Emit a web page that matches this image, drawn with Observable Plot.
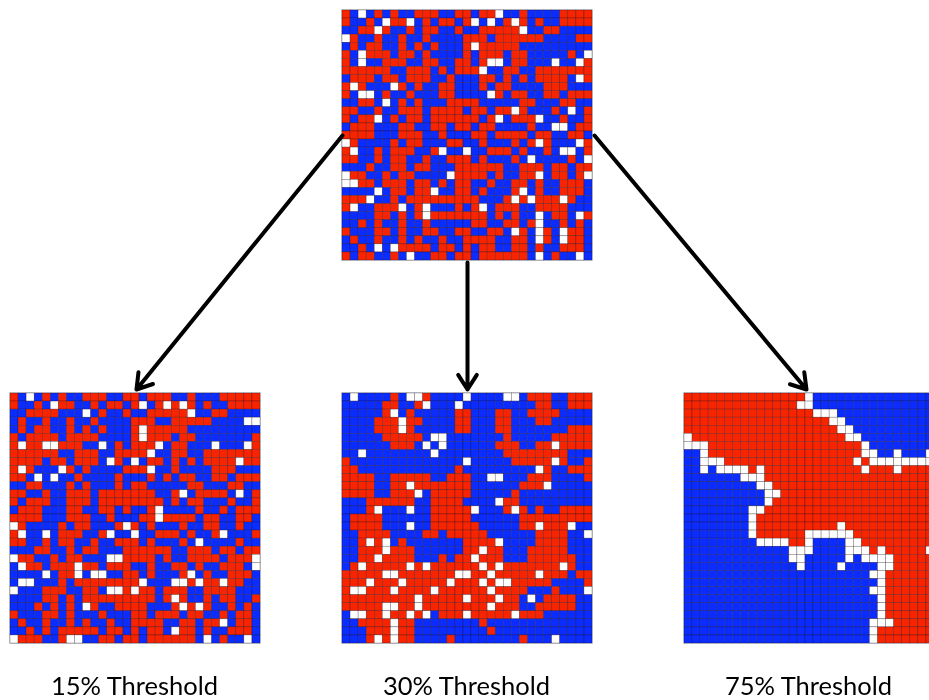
<!DOCTYPE html>
<html>
<head>
<meta charset="utf-8">
<script src="https://cdn.jsdelivr.net/npm/d3@7"></script>
<script src="https://cdn.jsdelivr.net/npm/@observablehq/plot@0.6"></script>
<style>
html,body{margin:0;padding:0;background:#fff;overflow:hidden}
svg{display:block;filter:blur(0.5px)}
</style>
</head>
<body>
<div id="chart"></div>
<script>
// R red agent, B blue agent, . empty
const initialGrid = [
"RB.BRBRBBRRRBBRRBRR.BBRBBBBRRRR",
"RBBRB.RR.BRBRRBR.B.BR.RBRBBRRRR",
"BBRR.RBBRBRRBBRBBRRRRR.BBRRBBBB",
".RBBRBBRBBRBBBBRRRBRRRRRRBBBBRR",
"BRBRRBBRBRBRBBBR.RRRRRBBBBBBBBB",
"RB.RRRBRRBRBBBBRBRRRBRRBBBBBRB.",
"RB.BBRRRBBRRBBRRBR..BRRBBB.BB.R",
"RRRRRRBBRRRBRBRRR.BBRRBBRRRRRRR",
"BRRRBRRBRRRBBRBBBRRBRBRBRRRRB.R",
"R.RBBB.RBRBBRRBBBRBRRBBBBRRRBBB",
"RB..BRBBRBBBRRBBBB.RBRRBBRRBRRR",
"BBRRB.BRBRBBBRRRRBBBBBRRBBBRRBB",
"RRBBRBBRRRBRRRRBRRBRR.RBBBRB.BR",
"RBRR.BRBRRBRRRRRRBR.BRRR.BBRBBR",
"BRRRBBBRRBBRRBRRBRRBBBBRBB..BRR",
"RRRRBBBRRRBBRBBBRRBRRRRBRRBBRRB",
".RBBBBRBRRBBBRRBBRBBBRBR.RBBB.R",
"R.BBRBRRRBBR.BB.BBRRRBRBBRB..BR",
"RRBBRBRRBBRBBRRRBRBBBRB.BBBBRB.",
"BBBRBBRRBRRBBBRRRRRRBBRRRBRRBRR",
".RRBBRBRRBBBB.RRRRBRBBRR.BRRBR.",
"..RRBRRRBRRBRBRRBBRBBRRBRBBRRRB",
"BBBB.BRRBRR.BBRRBRBBBR.BRBBRRRB",
"RRR.BBRBRRRRRRRRRBBBR.R.RRR.RBB",
"R.BBRRR.BR.BBBRBR.BRRRBBRRRRBBB",
"BBBBRRBRBR.RRRRRRRBRBRBB.BRRB.R",
"BBRBRBBRBBRBBBBBRRBBRRBR.BBRBRB",
"RBBBRRBRBBRRBBRRBBRRB.RB.RB.RRB",
"BRBBRBBRBRBBRBBRRRRBBRRB.RB.RRB",
"BBRB.B.RRRRBRRBRBRRBBRRBRBBRRRB",
"RBRRBBRB.BBRRBRRBRRRRRRB.BRBB.B"
];
const grid15 = [
"RB.BRBRBBRRRBBRRBRRRBBRBBBRRRRR",
"RBBRB.RRBBRBRRBR.BR.R.RBRBBRRRR",
"BBRRRRBBB.BRBBRBBRRRRR.BBRRBBBB",
"BRBBRBBRBBRBBBBRRRBBRRRRRBBBB..",
"BRBRRBBRBRBRBBBR.RRRRRBBBBBBBBB",
"RBRRRRBRRRRBBBBR.RRRBRRBBBBBBBR",
"R.RR..RRRBB.BRBRRR.BRRBBB.BBB.R",
"RRRRRRBBRRRBBRRRR.BBRRBBRRRRRRR",
"RRRRBRRBRRRB.RB.BRRBRBRBRRRR.RR",
"R.RBBB.RBRBBBBRRR.BBRBBBBRRRBBB",
"RRB.B.BBRBBBBRBBBRBRBRRBBRRBRRR",
"BBRRBBBRBRBBBRBRRBBBBBRRBBBRRBB",
"RRBBRBBRRRBRRRRRRRBBR.BRRRRB.BR",
"RBRRRBBRRRBRRRRRRRRBRBRRBBBRBBR",
"BRRRBBBRRBBRRBRBBR.BBBBRBBRBRRR",
"RRRRBBBRRRBBRBBBRR.RRRRBRRBBRRB",
".RBBBBRBRRBBBR.RBRBBBRBBRRBBRBB",
"R.BB.BRRRBBR.BB.BBRRRBRBBR.BBBR",
"RRBBRBRRBBRBBRRRBRBBBRB.BBBBRBB",
"BBBRRBBRBRRBBBRRRRRRBBRRRBRRBRR",
".RRBBRBRRBBB..RRRRBRBBRRRRBRRR.",
"B.RRBRRR.RRBRRRBBRBBRRBRBBRRRB.",
"BBBB.BRR.B..BBRRBRBBBR.BRBBRRRB",
"B..BBBRBRRRRRRRR.BBB..R.RR.RRBB",
".BBBRRRBBRRB..R.RRBRRRBBRRRRBBB",
"BBBBRRBRBRRRRRRRRRBR.RBBRBRRBBR",
"BBBRBRBRB.RBBRRRRBBBR.R.RBBRBRB",
"RBBBRRBRBBBRBBBRRBRRRBRRBBRBRRB",
"BRBBRBBRBRBBRBBRRRRBBRRBRR.BRRB",
"BBRBRBRRRRRBRRBRBRRB.RRBRBBRRRB",
".RRRBBR..BBRRBRRBRRRRRRB.BRBB.B"
];
const grid30 = [
"B.BBBBRB..RBBBB.BBBB..BRRRBBRRR",
"BBBBBRRBBR.BBB.BBBBBBBBBRRBBRRR",
"BBBBBR.BRBBBBBRRBBBRRBBRRRRBBBB",
"BBBBRRR.RRBBBBRRBBBRRBBBRRBBBBB",
"BBBBRRR.RBBBBBRRBBBRRBBBBBBBRRR",
"BBBBBRRRRRB..BBBBBBBRBBBBBRRRRR",
"BBBBBBRRRB.B.BBBBBBRRRBBRR.RRRR",
"BB.BBBBBBBB.BBBBBBBBRRRRRRRRBBB",
"RBBBBBBBBBBBBBB.BBBBBRRRRR.RBBR",
"RRBBBBBBBBBBBBRBBBBBBBBB.RBBRRR",
"RRRRBBRRRRRBBRRRBB..BBBRRRBBBBR",
"RRRRBBRR.RRRRRRRBBBBBBRRR.BBBBB",
"RRRRBBRRR.BRRRRRBBBBBRBBBBBBBBB",
"BBBRRRRRRBBRRRRBBBB.RRBBBBBBBBB",
"BBBR.BBB.BBRRRRR.BBBR.RBRBBRRRR",
"BRRRRBBBBBBRRRRRBBBBBBRRRRRRRRR",
"BRRRRBBB.BBRRRRRRBBBBBRR.RRR.BB",
"BBRRRRBBBBRRBRRRRRBBBBBBRRRRBB.",
"BBR.R.BRBBBBBBBRRRR.BBBBRRRRBBB",
"BBRRR.RRRBBBBBBRR.RRBBBRRRRRBBB",
"BBRR.RRRRBBBRBRR.RRRBBBRRRRRRBB",
"BR.RRRRR.R.RRRRRR.R.RRRRRRR.RBB",
"RRRRR..RRRRRRR..RR.RRRRR.RRRBRR",
"RRR.RRR.RRRRR.RRR.R..RRRRRBBBBR",
"R..RRR.RRRR.RRRRRR.RRRRBBBRBBB.",
"RRRRRRRRR.RRRRR.RRR.RRB.BRRRRBB",
"RRRRR..RR.RRRRRRRR.RRRBBRRRRRBB",
"B..RR.RR.R.BRRR.RRRRR.RRRBBBBBB",
"BBRRRR.RRBBBBBBBBRBBBBBBBBBBBBB",
"BBBRRR.RRBBBBBBBBBRBBBBBBBBBBBB",
"BBBR.R.RRBBBBRBBBBBBBBRBBB.BBBB"
];
const grid75 = [
"RRRRRRRRRRRRRRR.BBBBBBBBBBBBBBB",
"RRRRRRRRRRRRRR..BBBBBBBBBBBBBBB",
"RRRRRRRRRRRRRRRR...BBBBBBBBBBBB",
"RRRRRRRRRRRRRRRRRR..BBBBBBBBBBB",
"RRRRRRRRRRRRRRRRRRR..BBBBBBBBBB",
".RRRRRRRRRRRRRRRRRRR..BBBBBBBBB",
"...RRRRRRRRRRRRRRRRRRR.BBBBBBBB",
"BB.RRRRRRRRRRRRRRRRRRR..BB.BBB.",
"BB...RRRRRRRRRRRRRRRR.R........",
"BB.B....R.RRRRRRRRRRRR.RRR.RRRR",
"BBBBBBB...RRRRRRRRRRRRRRRRRRRRR",
"BBBBBBBBB..RRRRRRRRRRRRRRRRRRRR",
"BBBBBBBBBB..RRRRRRRRRRRRRRRRRRR",
"BBBBBBBBBB.RRRRRRRRRRRRRRRRRRRR",
"BBBBBBBB..RRRRRRRRRRRRRRRRRRRRR",
"BBBBBBBB.RRRRRRRRRRRRRRRRRRRRRR",
"BBBBBBBB.RRRRRRRRRR.RRRRRRRRRRR",
"BBBBBBBB.RRRRRR......RRRRRRRRRR",
"BBBBBBBBB....RR.BBBB..RRRRRRRRR",
"BBBBBBBBBBBBB...BBBB...R.RRRRR.",
"BBBBBBBBBBBBB..BBBBB.B....RRRRR",
"BBBBBBBBBBBBBB.BBBB.BBBB..RRRRR",
"BBBBBBBBBBBBBBBBBBBBBBB..RRRRRR",
"BBBBBBBBBBBBBBBBBBBBBBBB.RRRRRR",
"BBBBBBBBBBBBBBBBBBBBBBB..RRRRRR",
"BBBBBBBBBBBBBBBBBBBBBBBB.RRRRRR",
"BBBBBBBBBBBBBBBBBBBBBBBB.RRRRRR",
"BBBBBBBBBBBBBBBBBBBBBBBB.RRRRRR",
"BBBBBBBBBBBBBBBBBBBBBBB...RRRRR",
"BBBBBBBBBBBBBBBBBBBBBBB.RRRRRRR",
"BBBBBBBBBBBBBBBBBBBBBBB.RRRRRRR"
];
const thresholdLabels = ["15% Threshold", "30% Threshold", "75% Threshold"];

// page layout, in the pixel units of the x and y scales
const W = 929, H = 700, SIZE = 250, N = 31;
const panels = [
  {grid: initialGrid, left: 342, top: 10},
  {grid: grid15, left: 10, top: 393, label: thresholdLabels[0]},
  {grid: grid30, left: 342, top: 393, label: thresholdLabels[1]},
  {grid: grid75, left: 684, top: 393, label: thresholdLabels[2]}
];
const links = [
  {x1: 342, y1: 135, x2: 136, y2: 389},
  {x1: 467, y1: 262, x2: 467, y2: 389},
  {x1: 594, y1: 135, x2: 806, y2: 389}
];
const pitch = SIZE / N;
const cells = panels.flatMap(p => p.grid.flatMap((row, r) => [...row].map((v, c) => ({
  state: v,
  x1: p.left + c * pitch, x2: p.left + (c + 1) * pitch,
  y1: p.top + r * pitch, y2: p.top + (r + 1) * pitch
}))));

const plot = Plot.plot({
  width: W, height: H, margin: 0,
  x: {domain: [0, W], axis: null},
  y: {domain: [H, 0], range: [H, 0], axis: null},
  color: {type: "ordinal", domain: ["R", "B", "."], range: ["#f82400", "#0a2cff", "#ffffff"]},
  style: {background: "#fff"},
  marks: [
    Plot.rect(panels, {x1: "left", x2: d => d.left + SIZE, y1: "top", y2: d => d.top + SIZE,
      fill: "#fff", stroke: "#b9bcc8", strokeWidth: 1.5}),
    Plot.rect(cells, {x1: "x1", x2: "x2", y1: "y1", y2: "y2", fill: "state",
      stroke: "#1c0a14", strokeWidth: 0.5, strokeOpacity: 0.55}),
    Plot.arrow(links, {x1: "x1", y1: "y1", x2: "x2", y2: "y2", bend: 0, stroke: "#000",
      strokeWidth: 4, headLength: 6.5, headAngle: 65, insetStart: 0, insetEnd: 0}),
    Plot.text(panels.filter(d => d.label), {x: d => d.left + SIZE / 2 - 1, y: d => d.top + SIZE + 43, text: "label",
      fontFamily: "Lato", fontSize: 25.5, fill: "#000", lineAnchor: "middle"})
  ]
});
document.getElementById("chart").append(plot);
</script>
</body>
</html>
